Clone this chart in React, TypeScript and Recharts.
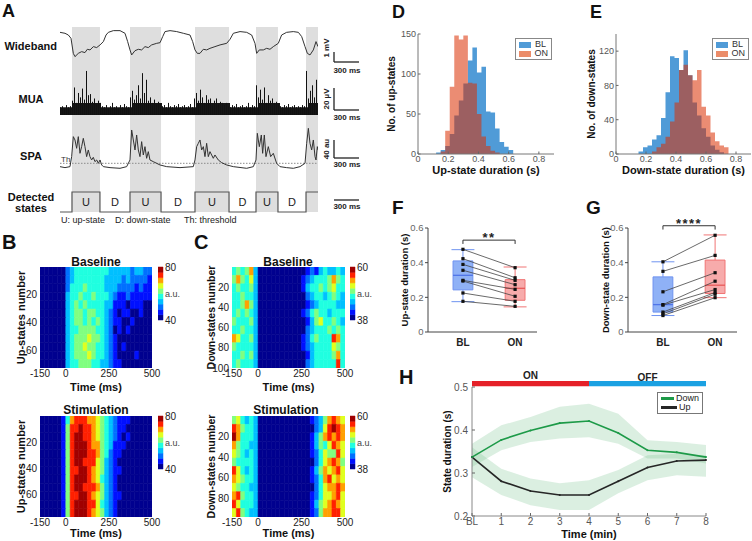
import React from "react";
import {
  Area,
  Bar,
  BarChart,
  ComposedChart,
  Legend,
  Line,
  LineChart,
  ReferenceArea,
  ReferenceDot,
  ReferenceLine,
  Scatter,
  XAxis,
  YAxis,
} from "recharts";

const FONT = "'Liberation Sans', Arial, Helvetica, sans-serif";

// ---------- A: example recording, time in ms across a 3.1 s window ----------
const windowMs = [0, 3100];
const upStartMs = [144, 841, 1622, 2355, 2956];
const upEndMs = [480, 1214, 2031, 2619, 3100];

const wideT = [
  0, 60, 100, 132, 160, 180, 220, 260, 300, 328, 361, 401, 441, 481, 521, 553, 581, 641, 721, 781,
  813, 841, 861, 901, 941, 981, 1021, 1061, 1101, 1162, 1202, 1234, 1262, 1322, 1402, 1482, 1562,
  1594, 1622, 1650, 1682, 1722, 1762, 1802, 1862, 1923, 2003, 2043, 2083, 2163, 2243, 2303, 2343,
  2363, 2395, 2443, 2483, 2523, 2563, 2623, 2663, 2723, 2803, 2864, 2904, 2944, 2972, 3004, 3044,
  3076, 3100,
];
const wideMv = [
  2.31, 2.22, 2.06, 1.75, 0.34, 0.03, 0.34, 0.5, 0.41, 0.72, 0.66, 0.97, 0.88, 1.13, 1.44, 2.06,
  2.31, 2.47, 2.47, 2.22, 1.44, 0.66, 0.19, 0.59, 0.72, 0.66, 0.97, 0.88, 1.13, 1.28, 1.34, 1.91,
  2.38, 2.47, 2.38, 2.22, 2.06, 1.44, 0.66, 0.34, 0.34, 0.72, 0.66, 0.81, 0.97, 1.13, 1.28, 1.66,
  2.22, 2.38, 2.31, 2.06, 1.28, 0.34, 0.66, 0.66, 0.81, 0.72, 0.97, 1.28, 2.06, 2.31, 2.38, 2.31,
  1.91, 0.97, 0.34, 0.19, 0.66, 1.44, 0.97,
];

// MUA peak per 24 ms bin (µV), and the noise floor of each state segment
const muaUv = [
  7, 8, 6, 9, 7, 8,
  13, 25, 11, 20, 16, 24, 14, 40, 18, 19, 12, 15, 9, 13, 11,
  8, 7, 9, 6, 8, 11, 7, 8, 6, 9, 7, 10, 8, 7,
  16, 22, 14, 18, 27, 15, 38, 20, 32, 13, 16, 11, 14, 9, 12, 10,
  8, 9, 7, 11, 8, 7, 9, 8, 10, 7, 8, 9, 7, 8, 10, 7,
  15, 20, 13, 23, 16, 11, 18, 14, 15, 10, 13, 15, 9, 12, 11, 9, 11, 8,
  7, 9, 8, 10, 7, 8, 9, 7, 8, 11, 7, 9, 8,
  27, 16, 23, 14, 25, 11, 18, 13, 15, 11, 12, 9,
  8, 7, 9, 8, 10, 7, 8, 9, 7, 8, 7, 9, 8,
  40, 15, 22, 27, 16, 32,
];
const muaBinMs = 24;
const muaFloorUv = [7, 11, 7, 11, 7, 11, 7, 11, 7, 11];

const spaT = [
  0, 60, 120, 140, 160, 180, 200, 220, 240, 260, 280, 300, 320, 340, 360, 380, 400, 420, 441, 461,
  481, 501, 521, 601, 721, 801, 841, 861, 881, 901, 921, 941, 961, 981, 1001, 1021, 1041, 1061, 1081,
  1121, 1161, 1202, 1282, 1442, 1602, 1622, 1642, 1662, 1682, 1702, 1722, 1742, 1762, 1782, 1802,
  1842, 1862, 1902, 1942, 2003, 2083, 2243, 2323, 2355, 2371, 2395, 2419, 2435, 2455, 2475, 2503,
  2531, 2563, 2603, 2643, 2723, 2804, 2884, 2944, 2964, 2984, 3004, 3024, 3044, 3064, 3076, 3092,
  3100,
];
const spaAu = [
  3.7, 1.5, 3.7, 25.9, 70.3, 62.9, 44.4, 70.3, 33.3, 48.1, 66.6, 48.1, 25.9, 40.7, 25.9, 18.5, 24.4,
  14.8, 18.5, 11.1, 18.5, 7.4, 3.7, 1.5, 0, 3.7, 18.5, 85.1, 62.9, 40.7, 74, 40.7, 25.9, 59.2, 29.6,
  48.1, 22.2, 37, 18.5, 14.8, 11.1, 7.4, 3.7, 1.5, 3.7, 18.5, 48.1, 55.5, 62.9, 40.7, 48.1, 25.9,
  55.5, 25.9, 37, 22.2, 29.6, 18.5, 12.6, 7.4, 3.7, 0, 3.7, 18.5, 77.7, 48.1, 74, 33.3, 74, 25.9,
  48.1, 25.9, 33.3, 11.1, 3.7, 1.5, 0, 3.7, 11.1, 55.5, 88.8, 55.5, 40.7, 62.9, 25.9, 18.5, 48.1,
  40.7,
];
const spaThreshold = 11.1;

const stateT = [0, 144, 480, 841, 1214, 1622, 2031, 2355, 2619, 2956, 3100];
const stateLevel = [0, 1, 0, 1, 0, 1, 0, 1, 0, 1, 1];
const stateLabel = ["", "U", "D", "U", "D", "U", "D", "U", "D", "", ""];

// ---------- B, C: heat maps, colour level 0-9 per 25 ms bin from -150 ms ----------
const JET = [
  "#00008f", "#0010ff", "#0070ff", "#00c0ff", "#20ffe0",
  "#80ff80", "#e0ff20", "#ffa000", "#ff2000", "#a00000",
];
const heatStartMs = -150;
const heatBinMs = 25;

const upBaseRows = [
  "000000 23444444443333323322",
  "000000 23444444433332322221",
  "000000 24445444433322221211",
  "000000 34454454443211211111",
  "000000 34545444433111011100",
  "000000 34554554432101100100",
  "000000 34554545432110010000",
  "000000 34455554432010100000",
  "000000 34555655432100000000",
  "000000 34556554432101000000",
  "000000 34555654432100001000",
  "000000 34455544332110000000",
];
const upStimRows = [
  "000001 47888776543211100000",
  "000001 58898876543211000000",
  "000001 58998876543210100000",
  "000001 58999877543111000000",
  "000001 58999887542110000000",
  "000001 58998886532100000000",
  "000001 58899876532110000000",
  "000001 58999876432100000000",
  "000001 58998887532100000000",
  "000001 58899876532110000000",
  "000001 58999886432100000000",
  "000001 58999876532100000000",
];
const downBaseRows = [
  "454573 00000000000121343343",
  "575463 00000000001234445754",
  "454453 00000000001344545644",
  "445443 00000000000234434543",
  "445753 00000000000123444433",
  "454543 00000000001245443444",
  "544453 00000000000135644543",
  "445443 00000000000234445454",
  "764453 00000000001245444874",
  "544443 00000000001234444654",
  "445453 00000000000134444574",
  "454443 00000000000234444484",
];
const downStimRows = [
  "564343 00000000000012357876",
  "875443 00000000000002368987",
  "974443 00000000000013578787",
  "754433 00000000000013546876",
  "654343 00000000000012465586",
  "544443 00000000000002467875",
  "864343 00000000000013576786",
  "765443 00000000000012478676",
  "654433 00000000000002467787",
  "785443 00000000000012466786",
  "864443 00000000000013567876",
  "685433 00000000000012577886",
];

// ---------- D, E: duration histograms, 0.03 s bins from 0 ----------
const histBinS = 0.03;
const histTicks = [0, 0.2, 0.4, 0.6, 0.8];
const upDurBL = [0, 0, 0, 0, 2, 5, 10, 25, 48, 67, 88, 117, 133, 102, 109, 53, 52, 32, 15, 9, 5, 0, 0, 0, 0, 0, 0, 0, 0, 0];
const upDurON = [0, 0, 0, 0, 0, 3, 29, 84, 148, 143, 148, 89, 88, 50, 22, 10, 4, 2, 0, 0, 0, 0, 0, 0, 0, 0, 0, 0, 0, 0];
const downDurBL = [0, 0, 0, 0, 0, 3, 8, 10, 17, 22, 42, 72, 114, 112, 98, 121, 92, 60, 45, 30, 20, 10, 5, 2, 0, 0, 0, 0, 0, 0];
const downDurON = [0, 0, 0, 0, 0, 0, 0, 0, 3, 8, 12, 20, 38, 60, 98, 104, 92, 86, 98, 55, 45, 25, 15, 10, 8, 0, 0, 0, 0, 0];

// ---------- F, G: paired per-animal means (s) ----------
const groupX = [1, 2];
const groupNames = ["BL", "ON"];
const upMeanBL = [0.477, 0.423, 0.39, 0.356, 0.298, 0.294, 0.225, 0.177];
const upMeanON = [0.371, 0.313, 0.298, 0.273, 0.246, 0.206, 0.177, 0.148];
const upBoxBL = [0.175, 0.243, 0.327, 0.41, 0.475]; // min, q1, median, q3, max
const upBoxON = [0.145, 0.183, 0.252, 0.302, 0.375];
const downMeanBL = [0.405, 0.35, 0.232, 0.158, 0.155, 0.115, 0.105, 0.095];
const downMeanON = [0.558, 0.442, 0.342, 0.293, 0.245, 0.228, 0.218, 0.198];
const downBoxBL = [0.095, 0.115, 0.158, 0.318, 0.405];
const downBoxON = [0.198, 0.222, 0.27, 0.415, 0.56];

// ---------- H: time course ----------
const hLabels = ["BL", "1", "2", "3", "4", "5", "6", "7", "8"];
const downMean = [0.337, 0.377, 0.399, 0.416, 0.421, 0.393, 0.353, 0.348, 0.337];
const downLo = [0.314, 0.353, 0.372, 0.38, 0.383, 0.368, 0.334, 0.334, 0.322];
const downHi = [0.368, 0.411, 0.43, 0.454, 0.461, 0.438, 0.376, 0.372, 0.365];
const upMean = [0.337, 0.281, 0.258, 0.249, 0.249, 0.281, 0.313, 0.328, 0.33];
const upLo = [0.29, 0.249, 0.225, 0.214, 0.214, 0.253, 0.283, 0.295, 0.291];
const upHi = [0.36, 0.31, 0.287, 0.276, 0.283, 0.307, 0.341, 0.345, 0.341];

const BL_FILL = "#509bd7";
const ON_FILL = "#da2d00";
const ON_SWATCH = "#eb8c69";

const fmtDec = (v: number) => (v === 0 ? "0" : v.toFixed(1));

// rotated axis title, placed dx px right of the axis box edge
const vTitle = (text: string, dx: number, size: number) => (props: any) => {
  const vb = props.viewBox || {};
  const cx = vb.x + dx;
  const cy = vb.y + vb.height / 2;
  return (
    <text x={cx} y={cy} transform={`rotate(-90 ${cx} ${cy})`} textAnchor="middle" dy="0.35em"
      fontSize={size} fontWeight="bold" fill="#111">
      {text}
    </text>
  );
};

type TickCfg = {
  side: "left" | "bottom";
  majors: number[];
  fmt: (v: number) => string;
  inward?: boolean;
  len?: number;
  gap?: number;
  size?: number;
  fill?: string;
  weight?: string;
  stroke?: string;
};

function makeTick(c: TickCfg) {
  return (p: any) => {
    const v = p.payload.value as number;
    const major = c.majors.some((m) => Math.abs(m - v) < 1e-9);
    const len = (c.len ?? 3) * (major ? 1 : 0.55);
    const dir = c.inward ? 1 : -1;
    const gap = c.gap ?? 3;
    const out = c.inward ? 0 : len;
    const txt = { fontSize: c.size ?? 9, fill: c.fill ?? "#555", fontWeight: c.weight ?? "normal" };
    if (c.side === "left") {
      return (
        <g>
          {len > 0 && <line x1={p.x} x2={p.x + dir * len} y1={p.y} y2={p.y} stroke={c.stroke ?? "#666"} />}
          {major && (
            <text x={p.x - gap - out} y={p.y} dy="0.35em" textAnchor="end" {...txt}>
              {c.fmt(v)}
            </text>
          )}
        </g>
      );
    }
    return (
      <g>
        {len > 0 && <line x1={p.x} x2={p.x} y1={p.y} y2={p.y - dir * len} stroke={c.stroke ?? "#666"} />}
        {major && (
          <text x={p.x} y={p.y + gap + out} dy="0.71em" textAnchor="middle" {...txt}>
            {c.fmt(v)}
          </text>
        )}
      </g>
    );
  };
}

const zero = { top: 0, right: 0, bottom: 0, left: 0 };

// 1 px spike drawn on the pixel grid at the bar's position
const spike = (p: any) => <rect x={Math.round(p.x)} y={p.y} width={1} height={p.height} fill="#111" />;

function PanelA() {
  const wide = wideT.map((t, i) => ({ t, v: wideMv[i] }));
  const mua = muaUv.map((v, i) => {
    const seg = stateT.findIndex((t, k) => i * muaBinMs >= t && i * muaBinMs < stateT[k + 1]);
    return { i, v, floor: muaFloorUv[seg] };
  });
  const spa = spaT.map((t, i) => ({ t, v: spaAu[i] }));
  const states = stateT.map((t, i) => ({ t, s: stateLevel[i] }));
  return (
    <>
      <div style={{ position: "absolute", left: 60, top: 27 }}>
        <ComposedChart width={258} height={185} data={[{ t: 0, y: 0 }, { t: 3100, y: 1 }]} margin={zero}>
          <XAxis dataKey="t" type="number" domain={windowMs} allowDataOverflow hide />
          <YAxis dataKey="y" type="number" domain={[0, 1]} allowDataOverflow hide />
          {upStartMs.map((s, i) => (
            <ReferenceArea key={i} x1={s} x2={upEndMs[i]} y1={0} y2={1} fill="#dedede" fillOpacity={1} stroke="none" />
          ))}
        </ComposedChart>
      </div>
      <div style={{ position: "absolute", left: 60, top: 27 }}>
        <LineChart width={258} height={32} data={wide} margin={zero}>
          <XAxis dataKey="t" type="number" domain={windowMs} hide />
          <YAxis type="number" domain={[-0.19, 2.81]} hide />
          <Line dataKey="v" type="linear" stroke="#333" strokeWidth={1} dot={false} isAnimationActive={false} />
        </LineChart>
      </div>
      <div style={{ position: "absolute", left: 60, top: 66 }}>
        <BarChart width={258} height={49} data={mua} margin={zero} barCategoryGap={0} barGap={0}>
          <XAxis dataKey="i" hide />
          <YAxis type="number" domain={[0, 44.5]} hide />
          <Bar dataKey="floor" fill="#161616" isAnimationActive={false} />
        </BarChart>
      </div>
      <div style={{ position: "absolute", left: 60, top: 66 }}>
        <BarChart width={258} height={49} data={mua} margin={zero} barCategoryGap={0} barGap={0}>
          <XAxis dataKey="i" hide />
          <YAxis type="number" domain={[0, 44.5]} hide />
          <Bar dataKey="v" fill="#111" shape={spike} isAnimationActive={false} />
        </BarChart>
      </div>
      <div style={{ position: "absolute", left: 60, top: 124 }}>
        <LineChart width={258} height={48} data={spa} margin={zero}>
          <XAxis dataKey="t" type="number" domain={windowMs} hide />
          <YAxis type="number" domain={[-8.2, 98.4]} hide />
          <ReferenceLine y={spaThreshold} stroke="#8a8a8a" strokeDasharray="1.5 1.5" />
          <Line dataKey="v" type="linear" stroke="#333" strokeWidth={1} dot={false} isAnimationActive={false} />
        </LineChart>
      </div>
      <div style={{ position: "absolute", left: 60, top: 190 }}>
        <LineChart width={258} height={24} data={states} margin={zero}>
          <XAxis dataKey="t" type="number" domain={windowMs} hide />
          <YAxis type="number" domain={[-0.1, 1.1]} hide />
          {stateLabel.map((lab, i) =>
            lab ? (
              <ReferenceArea key={i} x1={stateT[i]} x2={stateT[i + 1]} y1={0} y2={1} fill="none" fillOpacity={0}
                stroke="none" label={{ value: lab, position: "center", fontSize: 11, fill: "#222" }} />
            ) : null
          )}
          <Line dataKey="s" type="stepAfter" stroke="#555" strokeWidth={1.2} dot={false} isAnimationActive={false} />
        </LineChart>
      </div>
    </>
  );
}

function Heatmap({ left, top, width, rows, rowSpan, yTicks, yTitle, titleDx, titleSize, labelOffset }: {
  left: number; top: number; width: number; rows: string[]; rowSpan: number; yTicks: number[];
  yTitle: string; titleDx: number; titleSize: number; labelOffset: number;
}) {
  const grid = rows.map((r) => r.replace(/ /g, ""));
  const rowH = rowSpan / grid.length;
  return (
    <div style={{ position: "absolute", left, top }}>
      <ComposedChart width={width} height={137} data={[{ t: -150, r: 0 }, { t: 500, r: rowSpan }]}
        margin={{ top: 10, right: 12, bottom: 0, left: 14 }}>
        <XAxis dataKey="t" type="number" domain={[-150, 500]} allowDataOverflow ticks={[-150, 0, 250, 500]} height={26}
          axisLine={false} tickLine={false} tickSize={0} tickMargin={2} tick={{ fontSize: 10, fill: "#222" }}
          label={{ value: "Time (ms)", position: "insideBottom", offset: labelOffset, fontSize: 11, fontWeight: "bold", fill: "#111" }} />
        <YAxis dataKey="r" type="number" domain={[0, rowSpan]} allowDataOverflow reversed ticks={yTicks} width={26}
          axisLine={false} tickLine={false} tickSize={0} tickMargin={3} tick={{ fontSize: 10, fill: "#222" }}
          label={vTitle(yTitle, titleDx, titleSize)} />
        {grid.flatMap((r, i) =>
          r.split("").map((c, j) => (
            <ReferenceArea key={`${i}-${j}`} x1={heatStartMs + j * heatBinMs} x2={heatStartMs + (j + 1) * heatBinMs}
              y1={i * rowH} y2={(i + 1) * rowH} fill={JET[+c]} fillOpacity={1} stroke={JET[+c]} strokeWidth={0.6}
              ifOverflow="hidden" />
          ))
        )}
      </ComposedChart>
    </div>
  );
}

function ColorBar({ left, top, lo, hi }: { left: number; top: number; lo: number; hi: number }) {
  const step = (hi - lo) / JET.length;
  const unit = (props: any) => {
    const vb = props.viewBox || {};
    return (
      <text x={vb.x + 2} y={vb.y + vb.height / 2} dy="0.35em" fontSize={9} fill="#444">a.u.</text>
    );
  };
  return (
    <div style={{ position: "absolute", left, top }}>
      <ComposedChart width={34} height={65} data={[{ u: 0, c: lo }, { u: 1, c: hi }]}
        margin={{ top: 6, right: 9, bottom: 6, left: 0 }}>
        <XAxis dataKey="u" type="number" domain={[0, 1]} allowDataOverflow hide />
        <YAxis dataKey="c" type="number" orientation="right" domain={[lo, hi]} allowDataOverflow ticks={[lo, hi]} width={20}
          axisLine={false} tickLine={false} tickSize={0} tickMargin={2} tick={{ fontSize: 10, fill: "#222" }} label={unit} />
        {JET.map((c, k) => (
          <ReferenceArea key={k} x1={0} x2={1} y1={lo + k * step} y2={lo + (k + 1) * step} fill={c} fillOpacity={1}
            stroke={c} strokeWidth={0.5} />
        ))}
      </ComposedChart>
    </div>
  );
}

const histLegend = () => (
  <div style={{ border: "1px solid #888", background: "#fff", padding: "1px 3px", fontSize: 9, lineHeight: "9px", color: "#333" }}>
    {[["BL", BL_FILL], ["ON", ON_SWATCH]].map(([n, c]) => (
      <div key={n} style={{ display: "flex", alignItems: "center", gap: 4 }}>
        <span style={{ width: 12, height: 6, background: c, display: "inline-block" }} />
        {n}
      </div>
    ))}
  </div>
);

function Hist({ left, width, right, bl, on, yMax, yTicks, xTitle, yTitle, titleDx, legendLeft }: {
  left: number; width: number; right: number; bl: number[]; on: number[]; yMax: number; yTicks: number[];
  xTitle: string; yTitle: string; titleDx: number; legendLeft: number;
}) {
  const data = [...bl, 0].map((_, i) => ({ x: +(i * histBinS).toFixed(3), bl: bl[i] ?? 0, on: on[i] ?? 0 }));
  return (
    <div style={{ position: "absolute", left, top: 24 }}>
      <ComposedChart width={width} height={160} data={data} margin={{ top: 10, right, bottom: 0, left: 4 }}>
        <XAxis dataKey="x" type="number" domain={[0, 0.9]} ticks={histTicks} height={30} tickLine={false}
          tickSize={0} tickMargin={0} axisLine={{ stroke: "#777" }}
          tick={makeTick({ side: "bottom", majors: histTicks, fmt: fmtDec, inward: true, len: 2.5, gap: 2, size: 9 })}
          label={{ value: xTitle, position: "insideBottom", offset: 10, fontSize: 11, fontWeight: "bold", fill: "#111" }} />
        <XAxis xAxisId="top" dataKey="x" type="number" domain={[0, 0.9]} orientation="top" height={0} tick={false}
          tickLine={false} axisLine={{ stroke: "#777" }} />
        <YAxis type="number" domain={[0, yMax]} ticks={yTicks} width={34} tickLine={false} tickSize={0} tickMargin={0}
          axisLine={{ stroke: "#777" }}
          tick={makeTick({ side: "left", majors: yTicks, fmt: String, inward: true, len: 2.5, gap: 2, size: 9 })}
          label={vTitle(yTitle, titleDx, 10)} />
        <YAxis yAxisId="r" orientation="right" type="number" domain={[0, 1]} width={0} tick={false} tickLine={false}
          axisLine={{ stroke: "#777" }} />
        <Area type="stepAfter" dataKey="bl" fill={BL_FILL} fillOpacity={1} stroke="none" isAnimationActive={false} />
        <Area type="stepAfter" dataKey="on" fill={ON_FILL} fillOpacity={0.55} stroke="none" isAnimationActive={false} />
        <Legend content={histLegend} layout="vertical" align="center" verticalAlign="middle"
          wrapperStyle={{ left: legendLeft, top: 14, width: 37 }} />
      </ComposedChart>
    </div>
  );
}

function boxParts(x: number, s: number[], edge: string, fill: string, mid: string, key: string) {
  return [
    <ReferenceLine key={key + "w1"} segment={[{ x, y: s[0] }, { x, y: s[1] }]} stroke={edge} />,
    <ReferenceLine key={key + "w2"} segment={[{ x, y: s[3] }, { x, y: s[4] }]} stroke={edge} />,
    <ReferenceLine key={key + "c1"} segment={[{ x: x - 0.22, y: s[0] }, { x: x + 0.22, y: s[0] }]} stroke={edge} />,
    <ReferenceLine key={key + "c2"} segment={[{ x: x - 0.22, y: s[4] }, { x: x + 0.22, y: s[4] }]} stroke={edge} />,
    <ReferenceArea key={key + "b"} x1={x - 0.19} x2={x + 0.19} y1={s[1]} y2={s[3]} fill={fill} fillOpacity={1}
      stroke={edge} strokeWidth={1} />,
    <ReferenceLine key={key + "m"} segment={[{ x: x - 0.19, y: s[2] }, { x: x + 0.19, y: s[2] }]} stroke={mid}
      strokeWidth={1.3} />,
  ];
}

const square = (p: any) => <rect x={p.cx - 1.6} y={p.cy - 1.6} width={3.2} height={3.2} fill="#111" />;

function PairedBox({ left, bl, on, blStats, onStats, yTitle, titleDx, bracketY, stars }: {
  left: number; bl: number[]; on: number[]; blStats: number[]; onStats: number[]; yTitle: string;
  titleDx: number; bracketY: number; stars: string;
}) {
  const yAll = [0, 0.1, 0.2, 0.3, 0.4, 0.5, 0.6];
  return (
    <div style={{ position: "absolute", left, top: 208 }}>
      <ComposedChart width={165} height={150} margin={{ top: 20, right: 8, bottom: 0, left: 8 }}>
        <XAxis dataKey="x" type="number" domain={[0.33, 2.42]} ticks={groupX} height={26} tickLine={false}
          tickSize={0} tickMargin={0} axisLine={{ stroke: "#444" }}
          tick={makeTick({ side: "bottom", majors: groupX, fmt: (v) => groupNames[v - 1], len: 0, gap: 7, size: 10, weight: "bold", fill: "#222" })} />
        <YAxis dataKey="y" type="number" domain={[0, 0.6]} ticks={yAll} width={40} tickLine={false} tickSize={0}
          tickMargin={0} axisLine={{ stroke: "#444" }}
          tick={makeTick({ side: "left", majors: [0, 0.2, 0.4, 0.6], fmt: fmtDec, inward: false, len: 3, gap: 1.5, size: 9.5, fill: "#666", stroke: "#444" })}
          label={vTitle(yTitle, titleDx, 9.5)} />
        {boxParts(groupX[0], blStats, "#6f93f0", "#8fb1f6", "#4f74e8", "bl")}
        {boxParts(groupX[1], onStats, "#f07474", "#f7abab", "#e85a5a", "on")}
        {bl.map((v, i) => (
          <Scatter key={i} data={[{ x: groupX[0], y: v }, { x: groupX[1], y: on[i] }]} dataKey="y" shape={square}
            line={{ stroke: "#444", strokeWidth: 0.8 }} lineType="joint" isAnimationActive={false} />
        ))}
        <ReferenceLine segment={[{ x: 1, y: bracketY - 0.022 }, { x: 1, y: bracketY }]} stroke="#333" ifOverflow="visible" />
        <ReferenceLine segment={[{ x: 1, y: bracketY }, { x: 2, y: bracketY }]} stroke="#333" ifOverflow="visible" />
        <ReferenceLine segment={[{ x: 2, y: bracketY - 0.022 }, { x: 2, y: bracketY }]} stroke="#333" ifOverflow="visible" />
        <ReferenceDot x={1.5} y={bracketY} r={0} fill="none" stroke="none" ifOverflow="visible"
          label={{ value: stars, position: "top", offset: -2, fontSize: 13, fontWeight: "bold", fill: "#222", letterSpacing: 1.5 }} />
      </ComposedChart>
    </div>
  );
}

const timeLegend = () => (
  <div style={{ border: "1px solid #777", background: "#fff", padding: "1px 3px", fontSize: 9, lineHeight: "9px", color: "#222" }}>
    {[["Down", "#1d9a48"], ["Up", "#262626"]].map(([n, c]) => (
      <div key={n} style={{ display: "flex", alignItems: "center", gap: 2 }}>
        <span style={{ width: 16, height: 3, background: c, display: "inline-block" }} />
        {n}
      </div>
    ))}
  </div>
);

function TimeCourse() {
  const data = hLabels.map((_, i) => ({
    x: i,
    down: downMean[i],
    up: upMean[i],
    downBand: [downLo[i], downHi[i]],
    upBand: [upLo[i], upHi[i]],
  }));
  const xs = hLabels.map((_, i) => i);
  const yAll = [0.2, 0.25, 0.3, 0.35, 0.4, 0.45, 0.5];
  return (
    <div style={{ position: "absolute", left: 400, top: 360 }}>
      <ComposedChart width={316} height={181} data={data} margin={{ top: 27, right: 10, bottom: 0, left: 30 }}>
        <XAxis dataKey="x" type="number" domain={[0, 8]} ticks={xs} height={25} tickLine={false} tickSize={0}
          tickMargin={0} axisLine={{ stroke: "#888" }}
          tick={makeTick({ side: "bottom", majors: xs, fmt: (v) => hLabels[v], inward: true, len: 3, gap: 2, size: 10, fill: "#555" })}
          label={{ value: "Time (min)", position: "insideBottom", offset: 3, fontSize: 11, fontWeight: "bold", fill: "#111" }} />
        <YAxis type="number" domain={[0.2, 0.5]} ticks={yAll} width={42} tickLine={false} tickSize={0} tickMargin={0}
          axisLine={{ stroke: "#888" }}
          tick={makeTick({ side: "left", majors: [0.2, 0.3, 0.4, 0.5], fmt: (v) => v.toFixed(1), inward: true, len: 3, gap: 4, size: 10, fill: "#555" })}
          label={vTitle("State duration (s)", 17, 10)} />
        <YAxis yAxisId="r" orientation="right" type="number" domain={[0, 1]} width={0} tick={false} tickLine={false}
          axisLine={{ stroke: "#9a9a9a", strokeWidth: 2.5 }} />
        <ReferenceArea x1={0} x2={4} y1={0.5015} y2={0.514} fill="#e52129" fillOpacity={1} stroke="none" ifOverflow="visible"
          label={{ value: "ON", position: "top", offset: 2, fontSize: 10, fontWeight: "bold", fill: "#222" }} />
        <ReferenceArea x1={4} x2={8} y1={0.5015} y2={0.514} fill="#1ba1e2" fillOpacity={1} stroke="none" ifOverflow="visible"
          label={{ value: "OFF", position: "top", offset: 0, fontSize: 10, fontWeight: "bold", fill: "#222" }} />
        <Area dataKey="upBand" type="linear" fill="#7cc494" fillOpacity={0.28} stroke="none" isAnimationActive={false} />
        <Area dataKey="downBand" type="linear" fill="#7cc494" fillOpacity={0.28} stroke="none" isAnimationActive={false} />
        <Line dataKey="up" type="linear" stroke="#262626" strokeWidth={1.6} dot={{ r: 1, fill: "#262626", stroke: "none" }}
          isAnimationActive={false} />
        <Line dataKey="down" type="linear" stroke="#1d9a48" strokeWidth={1.6} dot={{ r: 1, fill: "#1d9a48", stroke: "none" }}
          isAnimationActive={false} />
        <Legend content={timeLegend} layout="vertical" align="center" verticalAlign="middle"
          wrapperStyle={{ left: 257, top: 32, width: 46 }} />
      </ComposedChart>
    </div>
  );
}

function Annotations() {
  const bold = { fontWeight: "bold", fill: "#111" } as const;
  const bar = { stroke: "#222", strokeWidth: 1.3 };
  const small = { fontSize: 8, fontWeight: "bold", fill: "#222", textAnchor: "middle" } as const;
  return (
    <svg width={752} height={541} style={{ position: "absolute", left: 0, top: 0, pointerEvents: "none" }}>
      <text x={2} y={17} fontSize={18} {...bold}>A</text>
      <text x={2} y={249} fontSize={20} {...bold}>B</text>
      <text x={194} y={249} fontSize={20} {...bold}>C</text>
      <text x={392} y={18} fontSize={18} {...bold}>D</text>
      <text x={590} y={18} fontSize={18} {...bold}>E</text>
      <text x={392} y={214} fontSize={19} {...bold}>F</text>
      <text x={586} y={214} fontSize={19} {...bold}>G</text>
      <text x={399} y={384} fontSize={20} {...bold}>H</text>

      <text x={57} y={50} fontSize={11} textAnchor="end" {...bold}>Wideband</text>
      <text x={31} y={103} fontSize={11} textAnchor="middle" {...bold}>MUA</text>
      <text x={31} y={160} fontSize={11} textAnchor="middle" {...bold}>SPA</text>
      <text x={31} y={201} fontSize={11} textAnchor="middle" {...bold}>Detected</text>
      <text x={31} y={212} fontSize={11} textAnchor="middle" {...bold}>states</text>
      <text x={61} y={162} fontSize={8} fill="#333">Th</text>
      <text x={61} y={223} fontSize={9} fill="#222">U: up-state</text>
      <text x={115} y={223} fontSize={9} fill="#222">D: down-state</text>
      <text x={184} y={223} fontSize={9} fill="#222">Th: threshold</text>

      <line x1={334} x2={334} y1={52} y2={62} {...bar} />
      <line x1={334} x2={359} y1={62} y2={62} {...bar} />
      <text x={329} y={48} transform="rotate(-90 329 48)" {...small}>1 mV</text>
      <text x={347} y={73} {...small}>300 ms</text>

      <line x1={334} x2={334} y1={88} y2={110} {...bar} />
      <line x1={334} x2={359} y1={110} y2={110} {...bar} />
      <text x={329} y={99} transform="rotate(-90 329 99)" {...small}>20 µV</text>
      <text x={347} y={120} {...small}>300 ms</text>

      <line x1={334} x2={334} y1={140} y2={158} {...bar} />
      <line x1={334} x2={359} y1={158} y2={158} {...bar} />
      <text x={329} y={149} transform="rotate(-90 329 149)" {...small}>40 au</text>
      <text x={347} y={167} {...small}>300 ms</text>

      <line x1={334} x2={359} y1={200} y2={200} {...bar} />
      <text x={347} y={209} {...small}>300 ms</text>

      <text x={96} y={266} fontSize={12} textAnchor="middle" {...bold}>Baseline</text>
      <text x={96} y={414} fontSize={12} textAnchor="middle" {...bold}>Stimulation</text>
      <text x={288} y={266} fontSize={12} textAnchor="middle" {...bold}>Baseline</text>
      <text x={286} y={414} fontSize={12} textAnchor="middle" {...bold}>Stimulation</text>
    </svg>
  );
}

export default function App() {
  return (
    <div style={{ position: "absolute", left: 0, top: 0, width: 752, height: 541, fontFamily: FONT, background: "#fff", overflow: "hidden" }}>
      <PanelA />
      <Heatmap left={0} top={257} width={164} rows={upBaseRows} rowSpan={73} yTicks={[20, 40, 60]}
        yTitle="Up-states number" titleDx={7} titleSize={11} labelOffset={3} />
      <ColorBar left={158} top={261} lo={40} hi={80} />
      <Heatmap left={0} top={406} width={164} rows={upStimRows} rowSpan={77} yTicks={[20, 40, 60]}
        yTitle="Up-states number" titleDx={7} titleSize={11} labelOffset={6} />
      <ColorBar left={158} top={410} lo={40} hi={80} />
      <Heatmap left={192} top={257} width={165} rows={downBaseRows} rowSpan={100} yTicks={[20, 40, 60, 80, 100]}
        yTitle="Down-states number" titleDx={5} titleSize={10.5} labelOffset={3} />
      <ColorBar left={350} top={261} lo={38} hi={60} />
      <Heatmap left={192} top={406} width={165} rows={downStimRows} rowSpan={98} yTicks={[20, 40, 60, 80]}
        yTitle="Down-states number" titleDx={5} titleSize={10.5} labelOffset={6} />
      <ColorBar left={350} top={410} lo={38} hi={60} />
      <Hist left={380} width={180} right={6} bl={upDurBL} on={upDurON} yMax={150} yTicks={[0, 50, 100, 150]}
        xTitle="Up-state duration (s)" yTitle="No. of up-states" titleDx={7} legendLeft={135} />
      <Hist left={578} width={174} right={1} bl={downDurBL} on={downDurON} yMax={140} yTicks={[0, 40, 80, 120]}
        xTitle="Down-state duration (s)" yTitle="No. of down-states" titleDx={9} legendLeft={134} />
      <PairedBox left={380} bl={upMeanBL} on={upMeanON} blStats={upBoxBL} onStats={upBoxON}
        yTitle="Up-state duration (s)" titleDx={17} bracketY={0.53} stars="**" />
      <PairedBox left={580} bl={downMeanBL} on={downMeanON} blStats={downBoxBL} onStats={downBoxON}
        yTitle="Down-state duration (s)" titleDx={18} bracketY={0.613} stars="****" />
      <TimeCourse />
      <Annotations />
    </div>
  );
}
